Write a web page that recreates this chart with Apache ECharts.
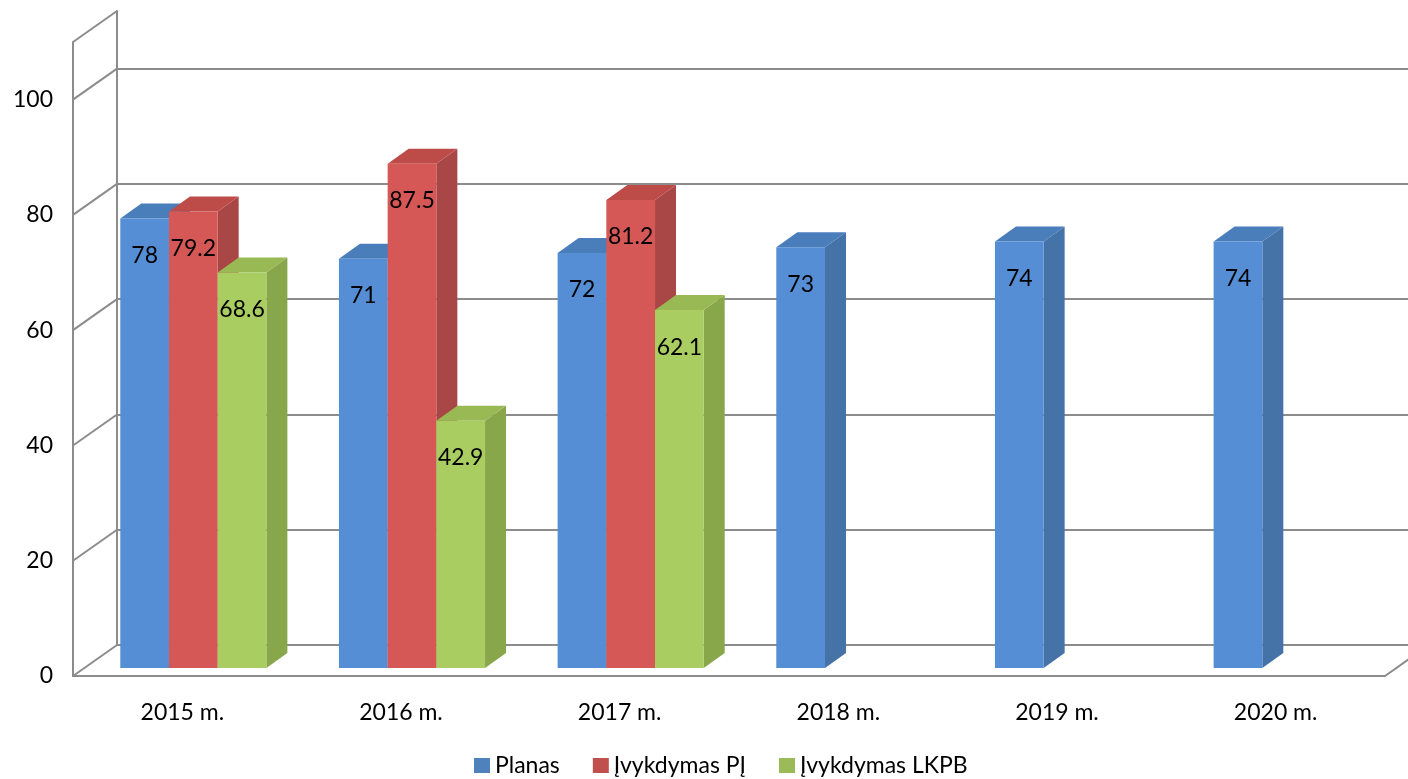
<!DOCTYPE html>
<html>
<head>
<meta charset="utf-8">
<script src="https://cdn.jsdelivr.net/npm/echarts@6/dist/echarts.min.js"></script>
<style>
html,body{margin:0;padding:0;background:#fff;}
#chart{width:1408px;height:779px;}
</style>
</head>
<body>
<div id="chart"></div>
<script>
// ---- data ----
const categories = ['2015 m.', '2016 m.', '2017 m.', '2018 m.', '2019 m.', '2020 m.'];
const seriesNames = ['Planas', 'Įvykdymas PĮ', 'Įvykdymas LKPB'];
const planas = [78, 71, 72, 73, 74, 74];
const vykdymasPJ = [79.2, 87.5, 81.2, null, null, null];
const vykdymasLKPB = [68.6, 42.9, 62.1, null, null, null];
const yTicks = [0, 20, 40, 60, 80, 100];
const yMax = 110;

// ---- styling / layout ----
const FONT = 'Lato';
const GRID_LEFT = 73, GRID_TOP = 42, GRID_W = 1312, GRID_H = 634;
const WALL_DX = 44, WALL_DY = -31;      // depth of the whole box
const BAR_OFF_X = 11, BAR_OFF_Y = -8;   // bars sit a bit behind the front plane
const BAR_DX = 21, BAR_DY = -15;        // depth of each bar
const BAR_FRAC = 0.2227;                // bar width as fraction of a category band
const LINE = '#8c8c8c';
const faces = [
  {front: '#558ed5', side: '#4572a7', top: '#4a7ebb', legend: '#4f81bd'},
  {front: '#d55856', side: '#a84745', top: '#bd4c49', legend: '#c0504d'},
  {front: '#aacd61', side: '#88a64a', top: '#98b954', legend: '#9bbb59'}
];
const allSeries = [planas, vykdymasPJ, vykdymasLKPB];

function barRender(slot) {
  return function (params, api) {
    const idx = api.value(0), val = api.value(1);
    const base = api.coord([idx, 0]);
    const topPt = api.coord([idx, val]);
    const band = api.size([1, 0])[0];
    const bw = band * BAR_FRAC;
    const x0 = base[0] - 1.5 * bw + BAR_OFF_X + slot * bw;
    const x1 = x0 + bw;
    const yb = base[1] + BAR_OFF_Y;
    const yt = topPt[1] + BAR_OFF_Y;
    const f = faces[slot];
    return {
      type: 'group',
      children: [
        {type: 'polygon', shape: {points: [[x1, yt], [x1 + BAR_DX, yt + BAR_DY], [x1 + BAR_DX, yb + BAR_DY], [x1, yb]]},
         style: {fill: f.side}},
        {type: 'polygon', shape: {points: [[x0, yt], [x0 + BAR_DX, yt + BAR_DY], [x1 + BAR_DX, yt + BAR_DY], [x1, yt]]},
         style: {fill: f.top}},
        {type: 'rect', shape: {x: x0, y: yt, width: bw, height: yb - yt},
         style: {fill: f.front}},
        {type: 'text', x: x0 + bw / 2, y: yt + 37,
         style: {text: String(val), fill: '#000', fontSize: 23, fontFamily: FONT, align: 'center', verticalAlign: 'middle'}}
      ]
    };
  };
}

const barSeries = allSeries.map((arr, s) => ({
  name: seriesNames[s],
  type: 'custom',
  xAxisIndex: 0, yAxisIndex: 0,
  z: 3 + s,
  itemStyle: {color: faces[s].legend},
  renderItem: barRender(s),
  data: arr.map((v, i) => v == null ? null : [i, v]).filter(d => d)
}));

// frame diagonals: [categoryIndex, value, side(0=left edge,1=right edge)]
const frameData = yTicks.concat([yMax]).map(v => [0, v, 0]).concat([[categories.length - 1, 0, 1]]);

const option = {
  animation: false,
  backgroundColor: '#fff',
  textStyle: {fontFamily: FONT},
  grid: [
    {left: GRID_LEFT, top: GRID_TOP, width: GRID_W, height: GRID_H},
    {left: GRID_LEFT + WALL_DX, top: GRID_TOP + WALL_DY, width: GRID_W, height: GRID_H}
  ],
  xAxis: [
    {type: 'category', gridIndex: 0, data: categories,
     axisLine: {show: true, lineStyle: {color: LINE, width: 2}},
     axisTick: {show: false},
     axisLabel: {color: '#000', fontSize: 23, fontFamily: FONT, margin: 25}},
    {type: 'category', gridIndex: 1, data: categories, show: false}
  ],
  yAxis: [
    {type: 'value', gridIndex: 0, min: 0, max: yMax, interval: 20,
     axisLine: {show: true, lineStyle: {color: LINE, width: 2}},
     axisTick: {show: false},
     splitLine: {show: false},
     axisLabel: {color: '#000', fontSize: 23, fontFamily: FONT, margin: 20, showMaxLabel: false, padding: [8, 0, 0, 0]}},
    {type: 'value', gridIndex: 1, min: 0, max: yMax, interval: 20,
     axisLine: {show: true, lineStyle: {color: LINE, width: 2}},
     axisTick: {show: false},
     axisLabel: {show: false},
     splitLine: {show: true, showMaxLine: false, lineStyle: {color: LINE, width: 2}}}
  ],
  legend: {
    data: seriesNames,
    left: 469, top: 749,
    icon: 'rect', itemWidth: 16, itemHeight: 15, itemGap: 33,
    textStyle: {color: '#000', fontSize: 23, fontFamily: FONT},
    selectedMode: false
  },
  series: [
    {
      type: 'custom', name: 'frame', silent: true, z: 1,
      xAxisIndex: 0, yAxisIndex: 0,
      renderItem: function (params, api) {
        const p = api.coord([api.value(0), api.value(1)]);
        const band = api.size([1, 0])[0];
        const x = api.value(2) === 1 ? p[0] + band / 2 : p[0] - band / 2;
        return {type: 'line', shape: {x1: x, y1: p[1], x2: x + WALL_DX, y2: p[1] + WALL_DY},
                style: {stroke: LINE, lineWidth: 2}};
      },
      data: frameData
    }
  ].concat(barSeries)
};

const chart = echarts.init(document.getElementById('chart'), null, {renderer: 'canvas'});
chart.setOption(option);
</script>
</body>
</html>
